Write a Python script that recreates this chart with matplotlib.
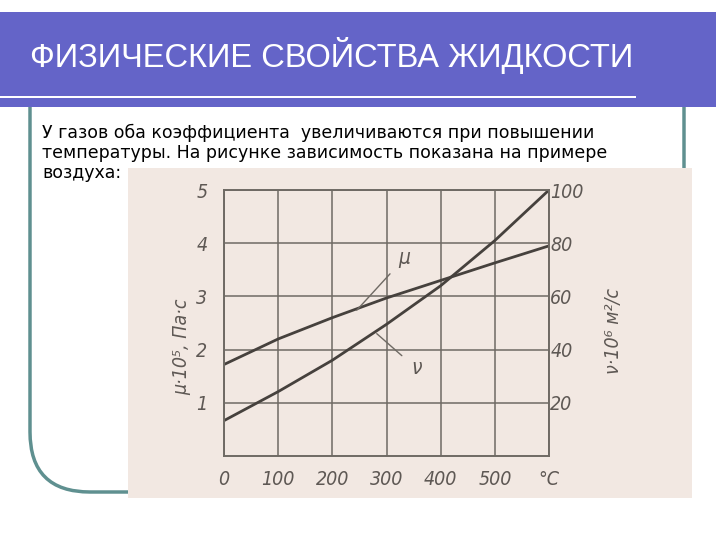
import matplotlib
matplotlib.use("Agg")
import matplotlib.pyplot as plt
from matplotlib.patches import Rectangle, FancyBboxPatch

# data (air)
temp = [0, 100, 200, 300, 400, 500, 600]
mu = [1.72, 2.2, 2.6, 2.97, 3.3, 3.63, 3.95]        # mu*10^5, Pa*s
nu = [13.3, 24.2, 36, 49.5, 64, 81, 100]             # nu*10^6, m2/s
x_ticks = [0, 100, 200, 300, 400, 500]
mu_ticks = [1, 2, 3, 4, 5]
nu_ticks = [20, 40, 60, 80, 100]

title = "ФИЗИЧЕСКИЕ СВОЙСТВА ЖИДКОСТИ"
body = ["У газов оба коэффициента  увеличиваются при повышении",
        "температуры. На рисунке зависимость показана на примере",
        "воздуха:"]

hand = dict(family="DejaVu Sans", style="italic", stretch="condensed")
ink = "#46413d"
grid_c = "#6f6a64"
lab_c = "#5e5854"

fig = plt.figure(figsize=(7.2, 5.4), dpi=100)

# slide background in pixel coordinates
bg = fig.add_axes([0, 0, 1, 1])
bg.set_xlim(0, 720)
bg.set_ylim(540, 0)
bg.axis("off")

frame = FancyBboxPatch((30, 40), 654, 452, boxstyle="round,pad=0,rounding_size=60",
                       fc="white", ec="#5f9090", lw=2.5, zorder=1)
bg.add_patch(frame)
bg.add_patch(Rectangle((0, 12), 716, 95, fc="#6464c8", ec="none", zorder=2))
bg.add_patch(Rectangle((0, 95.5), 636, 2.5, fc="white", ec="none", zorder=3))
bg.text(30, 56, title, color="white", fontsize=23.5, family="Liberation Sans",
        va="center", ha="left", zorder=4)
for i, line in enumerate(body):
    bg.text(42, 133 + i * 20, line, fontsize=12.5, family="DejaVu Sans",
            color="black", va="center", ha="left", zorder=4)
bg.add_patch(Rectangle((128, 168), 564, 330, fc="#f2e8e2", ec="none", zorder=5))

# scanned chart
ax = fig.add_axes([224 / 720, 1 - 456 / 540, 325 / 720, 266 / 540])
ax.set_facecolor("none")
ax.set_xlim(0, 600)
ax.set_ylim(0, 5)
ax.plot(temp, mu, color=ink, lw=2)
ax.plot(temp, [v / 20 for v in nu], color=ink, lw=2)

for s in ax.spines.values():
    s.set_color(grid_c)
    s.set_linewidth(1.4)
ax.set_xticks(x_ticks + [600])
ax.set_xticklabels([str(t) for t in x_ticks] + ["°C"])
ax.set_yticks(mu_ticks)
ax.grid(True, color=grid_c, lw=1.1)
ax.tick_params(length=0, labelsize=14, labelcolor=lab_c)
ax.tick_params(axis="x", pad=10)
ax.tick_params(axis="y", pad=12)
for t in ax.get_xticklabels() + ax.get_yticklabels():
    t.set(**hand)

ax.set_ylabel("μ·10⁵, Па·с", fontsize=14, color=lab_c, **hand)
ax.yaxis.set_label_coords(-0.1, 0.41)

ax2 = ax.twinx()
ax2.set_ylim(0, 100)
ax2.set_yticks(nu_ticks)
ax2.tick_params(length=0, labelsize=14, labelcolor=lab_c, pad=1)
for t in ax2.get_yticklabels():
    t.set(**hand)
for s in ax2.spines.values():
    s.set_visible(False)
ax2.set_ylabel("ν·10⁶ м²/с", fontsize=14, color=lab_c, **hand)
ax2.yaxis.set_label_coords(1.17, 0.47)

ax.annotate("μ", xy=(245, 2.74), xytext=(322, 3.72), fontsize=15, color=lab_c,
            va="center", **hand,
            arrowprops=dict(arrowstyle="-", color=grid_c, lw=1, shrinkB=0, shrinkA=6))
ax.annotate("ν", xy=(282, 2.3), xytext=(345, 1.65), fontsize=15, color=lab_c,
            va="center", **hand,
            arrowprops=dict(arrowstyle="-", color=grid_c, lw=1, shrinkB=0, shrinkA=6))

fig.savefig("out.png", dpi=100)
